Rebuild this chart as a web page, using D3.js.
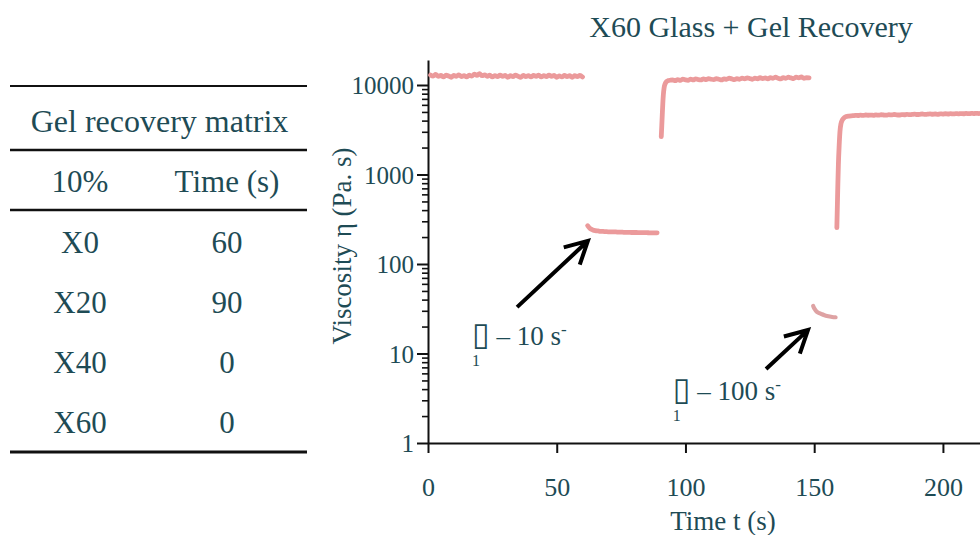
<!DOCTYPE html>
<html>
<head>
<meta charset="utf-8">
<script src="https://cdn.jsdelivr.net/npm/d3@7"></script>
<style>
  html, body { margin: 0; padding: 0; background: #fff; }
  svg { display: block; }
  text { font-family: "Liberation Serif", "Times New Roman", serif; fill: #1e4b55; }
</style>
</head>
<body>
<svg id="chart" width="980" height="535"></svg>
<script>
// ---- Viscosity record of the three-interval thixotropy test (t in s, eta in Pa.s) ----
// Interval 1: rest, low shear
const restTime = d3.range(1, 61);
const restEta = [
  12900, 12600, 13100, 12500, 12800, 12300, 12900, 12600, 12200, 12800,
  12500, 13000, 12400, 12700, 12300, 12900, 12600, 13200, 12800, 13400,
  12700, 13000, 12500, 12900, 12300, 12700, 12400, 12900, 12500, 12800,
  12200, 12700, 12400, 12900, 12500, 12200, 12800, 12400, 12700, 12300,
  12800, 12500, 12900, 12300, 12700, 12400, 12900, 12500, 12800, 12200,
  12600, 12300, 12800, 12400, 12700, 12200, 12700, 12400, 12800, 12300
];
// Interval 2: shear at 10 1/s
const shear10Time = d3.range(62, 90);
const shear10Eta = [
  268, 248, 240, 236, 234, 232, 231, 230, 229, 229,
  228, 228, 227, 227, 226, 226, 226, 225, 225, 225,
  224, 224, 224, 224, 223, 223, 223, 223
];
// Interval 3: recovery at rest
const recovery1Time = [90.6, 90.8, 91.0, 91.2, 91.4, 91.7, 92.1, 92.6, 93.3, 94].concat(d3.range(95, 149));
const recovery1Eta = [
  2650, 3500, 4700, 6200, 7700, 9300, 10300, 10900, 11200, 11300,
  11400, 11200, 11500, 11300, 11600, 11400, 11300, 11600, 11400, 11700,
  11500, 11400, 11700, 11500, 11800, 11600, 11500, 11800, 11600, 11400,
  11700, 11600, 11900, 11700, 11500, 11800, 11600, 11900, 11700, 12000,
  11800, 11600, 11900, 11700, 12100, 11800, 12000, 11700, 12100, 11900,
  12200, 11900, 11700, 12100, 11900, 12200, 12000, 11800, 12200, 12000,
  12300, 11900, 12100, 12000
];
// Interval 4: shear at 100 1/s
const shear100Time = [149.6, 150, 150.5, 151, 152, 153, 154, 155, 156, 157, 158.3];
const shear100Eta = [34, 32, 30.5, 29.3, 28.2, 27.4, 26.8, 26.3, 25.9, 25.6, 25.4];
// Interval 5: recovery at rest
const recovery2Time = [158.8, 159.0, 159.2, 159.4, 159.7, 160.0, 160.4, 161, 161.7, 162.5, 163.5].concat(d3.range(165, 216));
const recovery2Eta = [
  255, 450, 800, 1300, 2100, 3000, 3700, 4100, 4320, 4440, 4500,
  4540, 4580, 4560, 4600, 4570, 4620, 4590, 4610, 4580, 4630,
  4600, 4650, 4620, 4600, 4660, 4630, 4680, 4640, 4620, 4670,
  4650, 4700, 4660, 4690, 4720, 4680, 4700, 4740, 4690, 4720,
  4750, 4710, 4740, 4700, 4760, 4730, 4770, 4740, 4780, 4750,
  4790, 4760, 4800, 4770, 4810, 4780, 4820, 4790, 4830, 4800, 4840
];

// Shear rates called out on the plot
const shearRates = [10, 100];

// Axis ticks
const xTicks = [0, 50, 100, 150, 200];
const yMajorTicks = [1, 10, 100, 1000, 10000];

// Recovery table
const tableTitle = "Gel recovery matrix";
const tableHeader = ["10%", "Time (s)"];
const tableSamples = ["X0", "X20", "X40", "X60"];
const tableTimes = [60, 90, 0, 0];

const chartTitle = "X60 Glass + Gel Recovery";
const xLabel = "Time t (s)";
const yLabel = "Viscosity \u03b7 (Pa. s)";

// ---------------------------------------------------------------
const svg = d3.select("#chart");
const ink = "#1e4b55";
const seriesColor = "#eb9a9b";
const fastShearColor = "#dea2a3";

const plot = { left: 428, right: 980, bottom: 443 };
const yTopValue = 19000;
const pxPerDecade = 89.5;

const x = d3.scaleLinear().domain([0, 214.4]).range([plot.left, plot.right]);
const y = d3.scaleLog()
  .domain([1, yTopValue])
  .range([plot.bottom, plot.bottom - pxPerDecade * Math.log10(yTopValue)]);

// clip for series
svg.append("defs").append("clipPath").attr("id", "plotClip")
  .append("rect")
  .attr("x", plot.left).attr("y", 50)
  .attr("width", plot.right - plot.left).attr("height", plot.bottom - 50);

// Title
svg.append("text")
  .attr("x", 751).attr("y", 37)
  .attr("text-anchor", "middle")
  .attr("font-size", 30)
  .text(chartTitle);

// Minor ticks for the log axis: 2..9 within each decade
const yMinorTicks = [];
yMajorTicks.forEach(dec => {
  for (let m = 2; m <= 9; m++) {
    const v = m * dec;
    if (v <= y.domain()[1]) yMinorTicks.push(v);
  }
});
const isMajor = d => yMajorTicks.includes(d);

// Y axis
const yAxisG = svg.append("g")
  .attr("transform", `translate(${plot.left},0)`)
  .call(d3.axisLeft(y)
    .tickValues(yMajorTicks.concat(yMinorTicks))
    .tickSize(11)
    .tickSizeOuter(0)
    .tickPadding(3)
    .tickFormat(d => isMajor(d) ? String(d) : ""));
yAxisG.select(".domain").attr("stroke", "#111").attr("stroke-width", 2);
yAxisG.selectAll(".tick line")
  .attr("stroke", "#111")
  .attr("x2", d => isMajor(d) ? -11 : -6)
  .attr("stroke-width", d => isMajor(d) ? 2 : 1.6);
yAxisG.selectAll(".tick text")
  .style("fill", ink)
  .attr("font-family", "Liberation Serif, serif")
  .attr("font-size", 25)
  .attr("dy", "0.34em");

// X axis
const xAxisG = svg.append("g")
  .attr("transform", `translate(0,${plot.bottom})`)
  .call(d3.axisBottom(x)
    .tickValues(xTicks)
    .tickSize(10)
    .tickSizeOuter(0)
    .tickFormat(d => String(d)));
xAxisG.select(".domain").attr("stroke", "#111").attr("stroke-width", 2);
xAxisG.selectAll(".tick line").attr("stroke", "#111").attr("stroke-width", 2);
xAxisG.selectAll(".tick text")
  .style("fill", ink)
  .attr("font-family", "Liberation Serif, serif")
  .attr("font-size", 26)
  .attr("y", 53)
  .attr("dy", 0);

// Axis titles
svg.append("text")
  .attr("x", 723).attr("y", 530)
  .attr("text-anchor", "middle")
  .attr("font-size", 27)
  .text(xLabel);

svg.append("text")
  .attr("transform", "translate(351,246) rotate(-90)")
  .attr("text-anchor", "middle")
  .attr("font-size", 27)
  .text(yLabel);

// Series
const segments = [
  [restTime, restEta],
  [shear10Time, shear10Eta],
  [recovery1Time, recovery1Eta],
  [shear100Time, shear100Eta],
  [recovery2Time, recovery2Eta]
].map(([ts, es]) => ts.map((t, i) => ({ t, eta: es[i] })));

const line = d3.line()
  .x(d => x(d.t))
  .y(d => y(d.eta))
  .curve(d3.curveMonotoneX);

svg.append("g")
  .attr("clip-path", "url(#plotClip)")
  .selectAll("path")
  .data(segments)
  .join("path")
  .attr("d", line)
  .attr("fill", "none")
  .attr("stroke", (d, i) => i === 3 ? fastShearColor : seriesColor)
  .attr("stroke-width", (d, i) => i === 3 ? 4.2 : 4.8)
  .attr("stroke-linecap", "round")
  .attr("stroke-linejoin", "round");

// Annotations: arrows pointing at the two shear intervals
const callouts = [
  { rate: shearRates[0], tail: [34.6, 33], tip: [62.1, 181], label: [17.1, 12.4] },
  { rate: shearRates[1], tail: [131.3, 6.7], tip: [147.6, 18.3], label: [95.1, 3.0] }
];

const headLen = 25, headSpread = 28 * Math.PI / 180;
callouts.forEach(c => {
  const x1 = x(c.tail[0]), y1 = y(c.tail[1]);
  const x2 = x(c.tip[0]), y2 = y(c.tip[1]);
  const a = Math.atan2(y2 - y1, x2 - x1);
  const w1 = [x2 - headLen * Math.cos(a - headSpread), y2 - headLen * Math.sin(a - headSpread)];
  const w2 = [x2 - headLen * Math.cos(a + headSpread), y2 - headLen * Math.sin(a + headSpread)];
  const p = d3.path();
  p.moveTo(x1, y1); p.lineTo(x2 - 2 * Math.cos(a), y2 - 2 * Math.sin(a));
  p.moveTo(w1[0], w1[1]); p.lineTo(x2, y2); p.lineTo(w2[0], w2[1]);
  svg.append("path")
    .attr("d", p.toString())
    .attr("fill", "none")
    .attr("stroke", "#000")
    .attr("stroke-width", 4)
    .attr("stroke-linejoin", "miter")
    .attr("stroke-linecap", "butt");

  const lx = x(c.label[0]), ly = y(c.label[1]);
  const t = svg.append("text").attr("x", lx).attr("y", ly).attr("font-size", 27);
  t.append("tspan").attr("font-family", "DejaVu Sans, sans-serif").attr("font-size", 32).text("\u25af");
  t.append("tspan").text(` \u2013 ${c.rate} s`);
  t.append("tspan").attr("dy", -10).attr("font-size", 17).text("-");
  svg.append("text").attr("x", lx).attr("y", ly + 21).attr("font-size", 16).text("1");
});

// ---- Recovery table ----
const tbl = svg.append("g");
const tx0 = 10, tx1 = 307;
const col = [80, 227];
[[86, 2], [150, 2.5], [210, 2.5], [452, 3]].forEach(([yy, w]) => {
  tbl.append("line")
    .attr("x1", tx0).attr("x2", tx1).attr("y1", yy).attr("y2", yy)
    .attr("stroke", "#111").attr("stroke-width", w);
});
tbl.append("text")
  .attr("x", (tx0 + tx1) / 2 + 1).attr("y", 132)
  .attr("text-anchor", "middle").attr("font-size", 32)
  .text(tableTitle);
tbl.selectAll("text.head")
  .data(tableHeader)
  .join("text")
  .attr("class", "head")
  .attr("x", (d, i) => col[i]).attr("y", 192)
  .attr("text-anchor", "middle").attr("font-size", 31)
  .text(d => d);
const rows = tableSamples.map((s, i) => [s, String(tableTimes[i])]);
rows.forEach((r, ri) => {
  r.forEach((cell, ci) => {
    tbl.append("text")
      .attr("x", col[ci]).attr("y", 253 + ri * 60)
      .attr("text-anchor", "middle").attr("font-size", 31)
      .text(cell);
  });
});
</script>
</body>
</html>
